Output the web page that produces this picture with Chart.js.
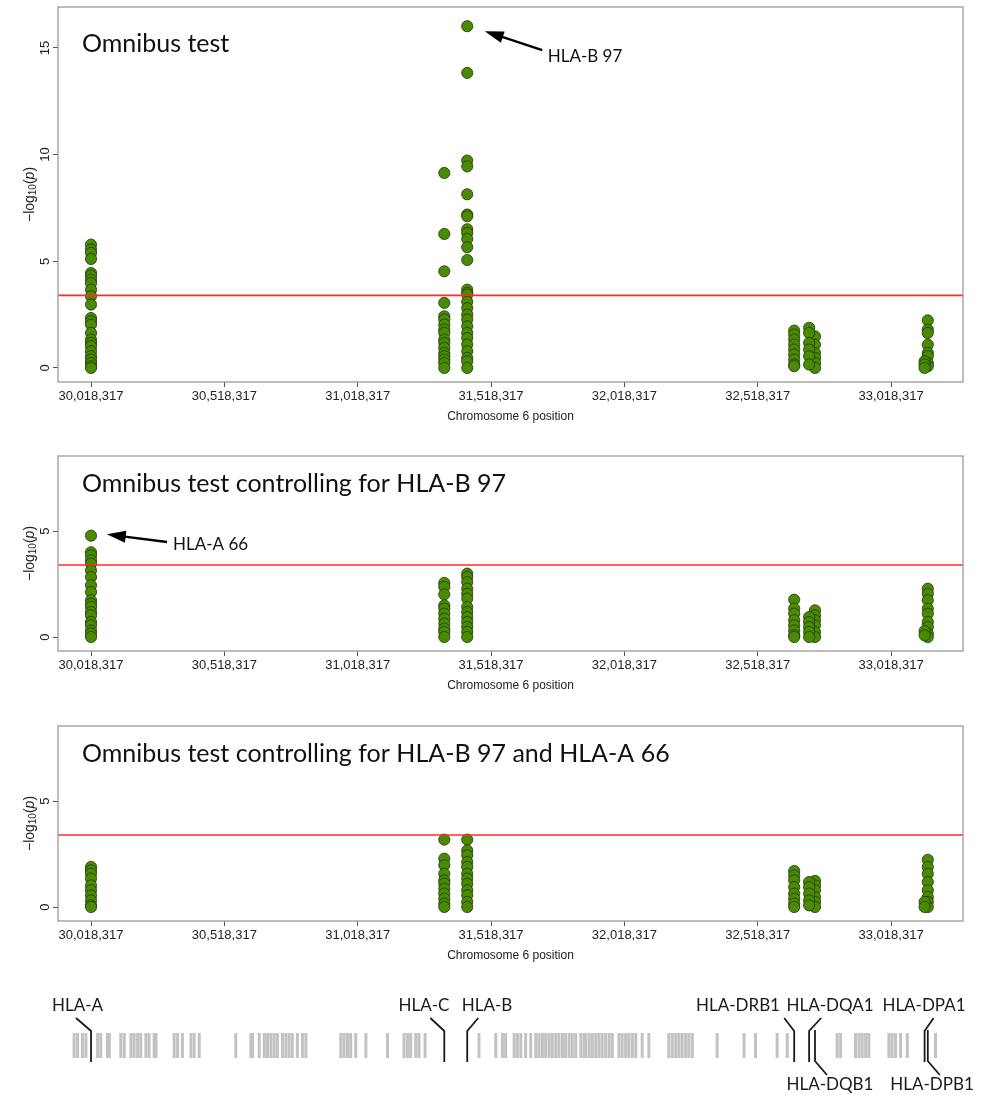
<!DOCTYPE html>
<html>
<head>
<meta charset="utf-8">
<script src="https://cdn.jsdelivr.net/npm/chart.js@4.4.1/dist/chart.umd.min.js"></script>
<style>
body{margin:0;background:#fff;width:992px;height:1095px;position:relative;overflow:hidden}
canvas{position:absolute;left:0}
</style>
</head>
<body>
<canvas id="p1" width="992" height="432" style="top:0"></canvas>
<canvas id="p2" width="992" height="261" style="top:440px"></canvas>
<canvas id="p3" width="992" height="261" style="top:710px"></canvas>
<canvas id="genes" width="992" height="120" style="top:975px"></canvas>
<script>
// eixo x (posicao no cromossomo 6)
const xMin = 29894500, xMax = 33288000;
const xTicks = [30018317, 30518317, 31018317, 31518317, 32018317, 32518317, 33018317];
const xTickLabels = ['30,018,317', '30,518,317', '31,018,317', '31,518,317', '32,018,317', '32,518,317', '33,018,317'];
const yTicksTop = [0, 5, 10, 15];
const yTicksCond = [0, 5];
const limiar = 3.4;

// genes HLA e suas posicoes
const lociNames = ['HLA-A', 'HLA-C', 'HLA-B', 'HLA-DRB1', 'HLA-DQA1', 'HLA-DQB1', 'HLA-DPA1', 'HLA-DPB1'];
const lociPos = [30018317, 31343000, 31429000, 32655000, 32711000, 32733000, 33144000, 33156000];

// painel 1: omnibus
const omniA = [5.78, 5.55, 5.39, 5.11, 4.45, 4.33, 4.14, 3.98, 3.67, 3.36, 2.97, 2.34, 2.19, 2.03, 1.64, 1.33, 1.17, 1.02, 0.78, 0.55, 0.39, 0.23, 0.08, 0];
const omniC = [9.14, 6.28, 4.53, 3.05, 2.42, 2.27, 2.03, 1.8, 1.64, 1.33, 1.17, 0.94, 0.7, 0.55, 0.39, 0.23, 0];
const omniB = [16.02, 13.83, 9.72, 9.45, 8.14, 7.19, 7.11, 6.5, 6.33, 6.05, 5.66, 5.06, 3.67, 3.52, 3.44, 3.1, 2.8, 2.5, 2.27, 1.95, 1.64, 1.4, 1.1, 0.78, 0.47, 0.31, 0];
const omniDRB1 = [1.75, 1.56, 1.33, 1.09, 0.86, 0.63, 0.39, 0.16, 0.08];
const omniDQA1 = [1.88, 1.64, 1.17, 0.86, 0.55, 0.16];
const omniDQB1 = [1.48, 1.09, 0.7, 0.47, 0.23, 0];
const omniDPA1 = [0.31, 0.16, 0];
const omniDPB1 = [2.23, 1.8, 1.64, 1.09, 0.7, 0.55, 0.23, 0.08];

// painel 2: controlando HLA-B 97
const condA = [4.78, 4.0, 3.85, 3.62, 3.46, 3.14, 2.83, 2.44, 2.12, 1.73, 1.57, 1.42, 1.18, 1.02, 0.71, 0.55, 0.31, 0.16, 0];
const condC = [2.55, 2.36, 2.01, 1.49, 1.34, 1.1, 0.86, 0.63, 0.39, 0.24, 0];
const condB = [2.99, 2.83, 2.59, 2.28, 2.04, 1.81, 1.42, 1.18, 0.94, 0.71, 0.47, 0.24, 0];
const condDRB1 = [1.76, 1.34, 1.1, 0.79, 0.55, 0.31, 0.08, 0];
const condDQA1 = [0.94, 0.71, 0.47, 0.24, 0];
const condDQB1 = [1.26, 1.02, 0.79, 0.55, 0.24, 0];
const condDPA1 = [0.28, 0.08];
const condDPB1 = [2.28, 2.04, 1.73, 1.34, 1.1, 0.71, 0.47, 0.16, 0];

// painel 3: controlando HLA-B 97 e HLA-A 66
const cond2A = [1.89, 1.73, 1.57, 1.34, 1.02, 0.79, 0.55, 0.31, 0.08, 0];
const cond2C = [3.18, 2.28, 1.97, 1.57, 1.26, 1.1, 0.86, 0.63, 0.39, 0.16, 0];
const cond2B = [3.18, 2.67, 2.44, 2.12, 1.89, 1.57, 1.34, 1.1, 0.79, 0.55, 0.24, 0];
const cond2DRB1 = [1.7, 1.49, 1.26, 0.94, 0.63, 0.39, 0.16, 0];
const cond2DQA1 = [1.18, 0.94, 0.63, 0.31, 0.08];
const cond2DQB1 = [1.23, 1.02, 0.79, 0.47, 0.24, 0];
const cond2DPA1 = [0.24, 0];
const cond2DPB1 = [2.23, 1.89, 1.57, 1.18, 0.79, 0.47, 0.24, 0];

// outros genes da regiao (kb)
const otherGenesKb = [29955, 29968, 29986, 29999, 30043, 30055, 30080, 30087, 30130, 30143, 30168, 30180, 30193, 30205,
  30224, 30236, 30255, 30262, 30330, 30343, 30361, 30393, 30405, 30424, 30561, 30618, 30624, 30649, 30668, 30680,
  30693, 30705, 30717, 30736, 30749, 30761, 30773, 30792, 30811, 30824, 30955, 30967, 30980, 30992, 31011, 31049,
  31130, 31192, 31205, 31217, 31236, 31248, 31271, 31473, 31536, 31561, 31573, 31605, 31617, 31630, 31648, 31667,
  31686, 31698, 31711, 31723, 31736, 31748, 31761, 31773, 31786, 31798, 31811, 31823, 31836, 31855, 31867, 31873,
  31886, 31898, 31911, 31923, 31935, 31948, 31961, 31973, 31998, 32010, 32023, 32035, 32048, 32061, 32085, 32110,
  32185, 32198, 32211, 32223, 32235, 32248, 32260, 32273, 32366, 32467, 32510, 32591, 32629, 32816, 32829, 32885,
  32898, 32910, 32923, 32935, 33010, 33022, 33035, 33054, 33079, 33185];

const fonteTitulo = 'Lato, "Open Sans", sans-serif';
const fonteEixo = '"Liberation Sans", Arial, sans-serif';

// caixa, titulo, rotulos y e seta
const desenhaPainel = {
  id: 'desenhaPainel',
  afterDraw(chart, args, opts) {
    const ctx = chart.ctx, a = chart.chartArea, ys = chart.scales.y;
    ctx.save();
    ctx.strokeStyle = '#9a9a9a';
    ctx.lineWidth = 1.3;
    ctx.strokeRect(a.left, a.top, a.right - a.left, a.bottom - a.top);

    // rotulos do eixo y (girados como no R)
    ctx.fillStyle = '#222';
    ctx.font = '13px ' + fonteEixo;
    ctx.textAlign = 'center';
    ctx.textBaseline = 'middle';
    ys.ticks.forEach(function (t) {
      const py = ys.getPixelForValue(t.value);
      ctx.save();
      ctx.translate(a.left - 13, py);
      ctx.rotate(-Math.PI / 2);
      ctx.fillText(String(t.value), 0, 0);
      ctx.restore();
    });

    // titulo do eixo y: -log10(p)
    ctx.save();
    ctx.translate(a.left - 28, (a.top + a.bottom) / 2);
    ctx.rotate(-Math.PI / 2);
    ctx.textAlign = 'left';
    ctx.textBaseline = 'middle';
    const partes = [['\u2212log', '14px ' + fonteEixo, 0], ['10', '10px ' + fonteEixo, 3], ['(', '14px ' + fonteEixo, 0], ['p', 'italic 14px ' + fonteEixo, 0], [')', '14px ' + fonteEixo, 0]];
    let total = 0;
    partes.forEach(function (p) { ctx.font = p[1]; total += ctx.measureText(p[0]).width; });
    let px = -total / 2;
    partes.forEach(function (p) {
      ctx.font = p[1];
      ctx.fillText(p[0], px, p[2]);
      px += ctx.measureText(p[0]).width;
    });
    ctx.restore();

    // titulo do painel
    ctx.fillStyle = '#111';
    ctx.font = '25px ' + fonteTitulo;
    ctx.textAlign = 'left';
    ctx.textBaseline = 'alphabetic';
    ctx.fillText(opts.titulo, 82, 51.5);

    // seta de anotacao
    if (opts.nota) {
      const n = opts.nota;
      const meta = chart.getDatasetMeta(n.serie + 1);
      let idx = 0;
      const dados = chart.data.datasets[n.serie + 1].data;
      dados.forEach(function (d, i) { if (d.y > dados[idx].y) idx = i; });
      const pt = meta.data[idx];
      const tx = pt.x + n.tip[0], ty = pt.y + n.tip[1];
      const sx = pt.x + n.tail[0], sy = pt.y + n.tail[1];
      const ang = Math.atan2(ty - sy, tx - sx);
      ctx.strokeStyle = '#000';
      ctx.fillStyle = '#000';
      ctx.lineWidth = 2.4;
      ctx.beginPath();
      ctx.moveTo(sx, sy);
      ctx.lineTo(tx - Math.cos(ang) * 12, ty - Math.sin(ang) * 12);
      ctx.stroke();
      ctx.beginPath();
      ctx.moveTo(tx, ty);
      ctx.lineTo(tx - Math.cos(ang) * 19 + Math.sin(ang) * 6, ty - Math.sin(ang) * 19 - Math.cos(ang) * 6);
      ctx.lineTo(tx - Math.cos(ang) * 19 - Math.sin(ang) * 6, ty - Math.sin(ang) * 19 + Math.cos(ang) * 6);
      ctx.closePath();
      ctx.fill();
      ctx.font = '17px ' + fonteTitulo;
      ctx.fillStyle = '#111';
      ctx.fillText(n.label, pt.x + n.text[0], pt.y + n.text[1]);
    }
    ctx.restore();
  }
};

function painel(id, series, yMin, yMax, yTicks, opts) {
  const ds = [{
    type: 'line',
    data: [{ x: xMin, y: limiar }, { x: xMax, y: limiar }],
    borderColor: '#ff2b2b',
    borderWidth: 1.6,
    pointRadius: 0
  }];
  series.forEach(function (s, i) {
    ds.push({
      label: lociNames[i],
      data: s.map(function (v) { return { x: lociPos[i], y: v }; }),
      backgroundColor: '#4a8a04',
      borderColor: '#1f3808',
      borderWidth: 0.8,
      pointRadius: 5.6
    });
  });
  return new Chart(document.getElementById(id), {
    type: 'scatter',
    data: { datasets: ds },
    plugins: [desenhaPainel],
    options: {
      responsive: false,
      animation: false,
      layout: { padding: { left: 0, right: 29, top: opts.top, bottom: 0 } },
      plugins: { legend: { display: false }, tooltip: { enabled: false }, desenhaPainel: opts },
      scales: {
        x: {
          type: 'linear', min: xMin, max: xMax,
          afterBuildTicks: function (s) { s.ticks = xTicks.map(function (v) { return { value: v }; }); },
          afterFit: function (s) { s.height = 50; },
          ticks: {
            autoSkip: false, maxRotation: 0, padding: 2, color: '#222',
            font: { family: fonteEixo, size: 13 },
            callback: function (v) { return xTickLabels[xTicks.indexOf(v)]; }
          },
          grid: { display: true, drawOnChartArea: false, drawTicks: true, tickLength: 5, color: '#555' },
          border: { display: false },
          title: { display: true, text: 'Chromosome 6 position', color: '#222', font: { family: fonteEixo, size: 12 }, padding: { top: 0, bottom: 8 } }
        },
        y: {
          type: 'linear', min: yMin, max: yMax,
          afterBuildTicks: function (s) { s.ticks = yTicks.map(function (v) { return { value: v }; }); },
          afterFit: function (s) { s.width = 58; },
          ticks: { display: false },
          grid: { display: true, drawOnChartArea: false, drawTicks: true, tickLength: 5, color: '#555' },
          border: { display: false }
        }
      }
    }
  });
}

painel('p1', [omniA, omniC, omniB, omniDRB1, omniDQA1, omniDQB1, omniDPA1, omniDPB1], -0.66, 16.92, yTicksTop, {
  top: 7, titulo: 'Omnibus test',
  nota: { serie: 2, label: 'HLA-B 97', tip: [17.5, 5], tail: [75, 24], text: [80.5, 35.4] }
});
painel('p2', [condA, condC, condB, condDRB1, condDQA1, condDQB1, condDPA1, condDPB1], -0.66, 8.54, yTicksCond, {
  top: 16, titulo: 'Omnibus test controlling for HLA-B 97',
  nota: { serie: 0, label: 'HLA-A 66', tip: [15.8, -1.4], tail: [76, 6.3], text: [82, 14.6] }
});
painel('p3', [cond2A, cond2C, cond2B, cond2DRB1, cond2DQA1, cond2DQB1, cond2DPA1, cond2DPB1], -0.66, 8.54, yTicksCond, {
  top: 16, titulo: 'Omnibus test controlling for HLA-B 97 and HLA-A 66'
});

// trilha de genes
const rotulosGenes = [
  { up: true, dx: -15, cx: 77.5 },
  { up: true, dx: -14, cx: 424 },
  { up: true, dx: 11, cx: 487 },
  { up: true, dx: -10, cx: 738 },
  { up: true, dx: 12, cx: 830 },
  { up: false, dx: 12, cx: 830 },
  { up: true, dx: 9, cx: 924 },
  { up: false, dx: 12, cx: 932 }
];

const desenhaHLA = {
  id: 'desenhaHLA',
  afterDatasetsDraw(chart) {
    const ctx = chart.ctx, xs = chart.scales.x;
    ctx.save();
    ctx.strokeStyle = '#1a1a1a';
    ctx.lineWidth = 1.8;
    ctx.fillStyle = '#1a1a1a';
    ctx.font = '17px ' + fonteTitulo;
    ctx.textAlign = 'center';
    lociPos.forEach(function (pos, i) {
      const px = xs.getPixelForValue(pos);
      const r = rotulosGenes[i];
      ctx.beginPath();
      if (r.up) {
        ctx.moveTo(px + r.dx, 43);
        ctx.lineTo(px, 56);
        ctx.lineTo(px, 87);
        ctx.stroke();
        ctx.fillText(lociNames[i], r.cx, 36);
      } else {
        ctx.moveTo(px, 55);
        ctx.lineTo(px, 86);
        ctx.lineTo(px + r.dx, 100);
        ctx.stroke();
        ctx.fillText(lociNames[i], r.cx, 115);
      }
    });
    ctx.restore();
  }
};

new Chart(document.getElementById('genes'), {
  type: 'scatter',
  data: {
    datasets: [{
      data: otherGenesKb.map(function (k) { return { x: k * 1000, y: 0.5 }; }),
      pointStyle: 'line',
      pointRotation: 90,
      rotation: 90,
      pointRadius: 12.5,
      borderWidth: 3,
      borderColor: '#c2c2c2',
      backgroundColor: '#c2c2c2'
    }]
  },
  plugins: [desenhaHLA],
  options: {
    responsive: false,
    animation: false,
    layout: { padding: { left: 58, right: 29, top: 58, bottom: 37 } },
    plugins: { legend: { display: false }, tooltip: { enabled: false } },
    scales: {
      x: { type: 'linear', min: xMin, max: xMax, display: false },
      y: { min: 0, max: 1, display: false }
    }
  }
});
</script>
</body>
</html>
